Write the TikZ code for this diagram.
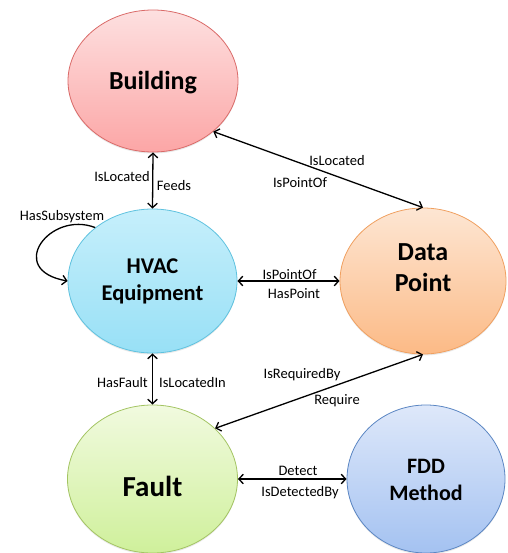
\documentclass[tikz,border=0pt]{standalone}
\usepackage{fontspec}
\setmainfont{Carlito}
\usetikzlibrary{arrows.meta,shapes.geometric,shadows}

\definecolor{bldTop}{HTML}{FDE0E0}\definecolor{bldBot}{HTML}{FCA6A6}\definecolor{bldLine}{HTML}{DA6A68}
\definecolor{hvTop}{HTML}{C6EFFB}\definecolor{hvBot}{HTML}{98E0F6}\definecolor{hvLine}{HTML}{5FC2DF}
\definecolor{dpTop}{HTML}{FDE6D3}\definecolor{dpBot}{HTML}{FCBA86}\definecolor{dpLine}{HTML}{F0A060}
\definecolor{ftTop}{HTML}{F1FADF}\definecolor{ftBot}{HTML}{CFF09B}\definecolor{ftLine}{HTML}{A3C462}
\definecolor{fdTop}{HTML}{DEE8FA}\definecolor{fdBot}{HTML}{A4C2F1}\definecolor{fdLine}{HTML}{5B86C3}

\tikzset{
  entity/.style={ellipse, inner sep=0pt, line width=0.8pt,
    drop shadow={opacity=0.18, shadow xshift=0pt, shadow yshift=-1.5pt}},
  title/.style={font=\bfseries, align=center},
  rel/.style={line width=1.3pt, {Straight Barb[length=4.5pt,width=9.5pt]}-{Straight Barb[length=4.5pt,width=9.5pt]}},
  selfrel/.style={line width=1.3pt, -{Straight Barb[length=4.5pt,width=9.5pt]}},
  lbl/.style={font=\fontsize{14.5}{16}\selectfont, inner sep=0pt}
}

\begin{document}
\begin{tikzpicture}[x=1pt,y=-1pt]
\useasboundingbox (0,0) rectangle (507,553);

% concept ellipses
\node[entity, draw=bldLine, top color=bldTop, bottom color=bldBot,
      minimum width=170pt, minimum height=142pt,
      label={[title, font=\fontsize{26}{30}\bfseries\selectfont, yshift=-2pt]center:Building}]
      (bld) at (153,81) {};
\node[entity, draw=hvLine, top color=hvTop, bottom color=hvBot,
      minimum width=169pt, minimum height=144pt,
      label={[title, font=\fontsize{22.5}{27}\bfseries\selectfont]center:HVAC\\Equipment}]
      (hvac) at (152.5,281) {};
\node[entity, draw=dpLine, top color=dpTop, bottom color=dpBot,
      minimum width=166pt, minimum height=146pt,
      label={[title, font=\fontsize{26}{31}\bfseries\selectfont, yshift=13pt]center:Data\\Point}]
      (dp) at (423,281) {};
\node[entity, draw=ftLine, top color=ftTop, bottom color=ftBot,
      minimum width=170pt, minimum height=148pt,
      label={[title, font=\fontsize{29}{33}\bfseries\selectfont, yshift=-7pt]center:Fault}]
      (fault) at (152.5,479) {};
\node[entity, draw=fdLine, top color=fdTop, bottom color=fdBot,
      minimum width=158pt, minimum height=148pt,
      label={[title, font=\fontsize{22}{27}\bfseries\selectfont, yshift=-1pt]center:FDD\\Method}]
      (fdd) at (426,479) {};

% relations
\draw[rel] (bld.south) -- (hvac.north);
\draw[rel] (bld.-40) -- (dp.north);
\draw[rel] (hvac.east) -- (dp.west);
\draw[rel] (hvac.south) -- (fault.north);
\draw[rel] (fault.39) -- (dp.south);
\draw[rel] (fault.east) -- (fdd.west);
\draw[selfrel] (hvac.137) .. controls (50,210) and (5,270) .. (hvac.west);

% relation labels
\node[lbl] (l1) at (122,177) {IsLocated};
\node[lbl] (l2) at (174,186) {Feeds};
\node[lbl] (l3) at (62,217) {HasSubsystem};
\node[lbl] (l4) at (337,161) {IsLocated};
\node[lbl] (l5) at (300,183) {IsPointOf};
\node[lbl] (l6) at (289.5,275) {IsPointOf};
\node[lbl] (l7) at (294,294) {HasPoint};
\node[lbl] (l8) at (122.5,383) {HasFault};
\node[lbl] (l9) at (192.5,383) {IsLocatedIn};
\node[lbl] (l10) at (302,375) {IsRequiredBy};
\node[lbl] (l11) at (337,401) {Require};
\node[lbl] (l12) at (298,471) {Detect};
\node[lbl] (l13) at (300,493) {IsDetectedBy};
\end{tikzpicture}
\end{document}
